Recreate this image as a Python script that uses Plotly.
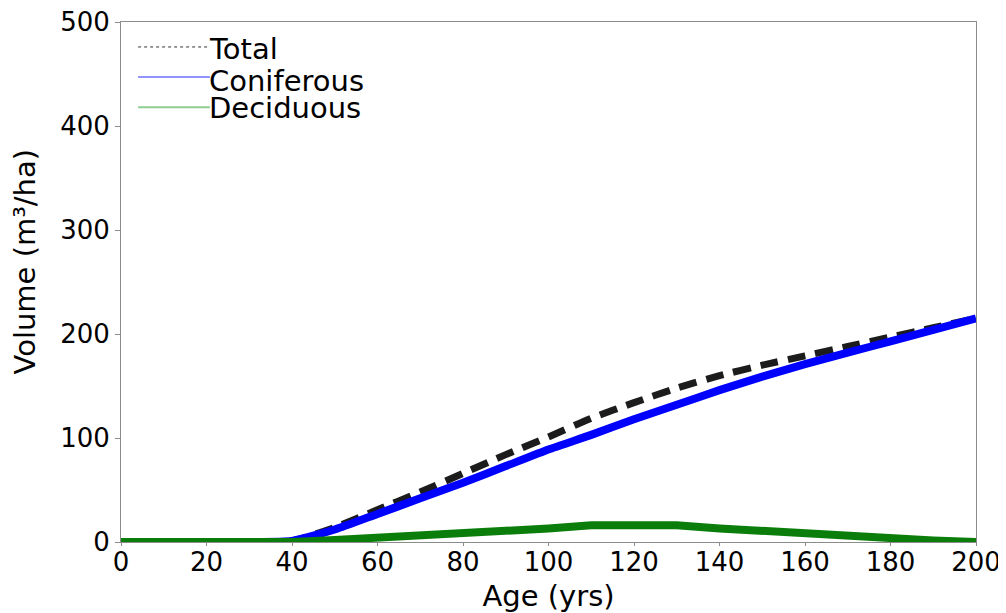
import plotly.graph_objects as go

# data
age = [0, 10, 20, 30, 40, 50, 60, 70, 80, 90, 100, 110, 120, 130, 140, 150, 160, 170, 180, 190, 200]
total = [0, 0, 0, 0, 1, 14, 31, 48, 66, 84, 101, 119, 134, 148, 160, 170, 179, 188, 197, 206, 215]
coniferous = [0, 0, 0, 0, 1, 12, 27, 42, 57, 73, 89, 103, 118, 132, 146, 159, 171, 182, 193, 204, 215]
deciduous = [0, 0, 0, 0, 0, 2, 4, 6, 9, 11, 13, 16, 16, 16, 13, 10.5, 8, 6, 3, 1.5, 0]

series_names = ["Total", "Coniferous", "Deciduous"]
x_ticks = list(range(0, 201, 20))
y_ticks = list(range(0, 501, 100))

FONT = "DejaVu Sans"

fig = go.Figure()

# thick lines in the plot
fig.add_trace(go.Scatter(x=age, y=total, mode="lines", name="Total", cliponaxis=False,
                         line=dict(color="#1c1c1c", width=7, dash="18px,10px", shape="spline", smoothing=0.5)))
fig.add_trace(go.Scatter(x=age, y=coniferous, mode="lines", name="Coniferous", cliponaxis=False,
                         line=dict(color="#0000ff", width=8, shape="spline", smoothing=0.5)))
fig.add_trace(go.Scatter(x=age, y=deciduous, mode="lines", name="Deciduous", cliponaxis=False,
                         line=dict(color="#0a7d0a", width=8)))

# hand-made legend: thin sample lines + text, top left of the plot
legend_styles = [
    dict(color="#333333", width=1, dash="dot"),
    dict(color="#6f6fff", width=1.5),
    dict(color="#8fce8f", width=2),
]
legend_line_y = [0.952, 0.894, 0.836]
legend_text_y = [0.948, 0.887, 0.835]
for name, style, ly, ty in zip(series_names, legend_styles, legend_line_y, legend_text_y):
    fig.add_shape(type="line", xref="paper", yref="paper",
                  x0=0.02, x1=0.104, y0=ly, y1=ly, line=style)
    fig.add_annotation(xref="paper", yref="paper", x=0.1, y=ty,
                       text=name, showarrow=False, xanchor="left", yanchor="middle",
                       font=dict(family=FONT, size=29, color="black"))

# y axis title placed by hand, slightly above the middle like the reference
fig.add_annotation(xref="paper", yref="paper", x=-0.112, y=0.54, textangle=-90,
                   text="Volume (m³/ha)", showarrow=False, xanchor="center", yanchor="middle",
                   font=dict(family=FONT, size=29, color="black"))

axis_common = dict(showgrid=False, zeroline=False, showline=True, mirror=True, automargin=False,
                   linecolor="#8c8c8c", linewidth=1, ticks="outside", ticklabeloverflow="allow",
                   tickcolor="#8c8c8c")

fig.update_xaxes(range=[0, 200], tickvals=x_ticks, ticktext=[str(v) for v in x_ticks],
                 ticklen=3, ticklabelstandoff=-6, tickfont=dict(family=FONT, size=26, color="black"),
                 title=dict(text="Age (yrs)", font=dict(family=FONT, size=29, color="black"), standoff=9),
                 **axis_common)
fig.update_yaxes(range=[0, 500], tickvals=y_ticks, ticktext=[str(v) for v in y_ticks],
                 ticklen=5, tickfont=dict(family=FONT, size=26, color="black"),
                 **axis_common)

# the page adds an 8px body margin, so the figure is 8px smaller than the window
fig.update_layout(
    width=998, height=605,
    margin=dict(l=113, r=30, t=14, b=71),
    plot_bgcolor="white", paper_bgcolor="white",
    showlegend=False,
)

fig.write_html("out.html")
